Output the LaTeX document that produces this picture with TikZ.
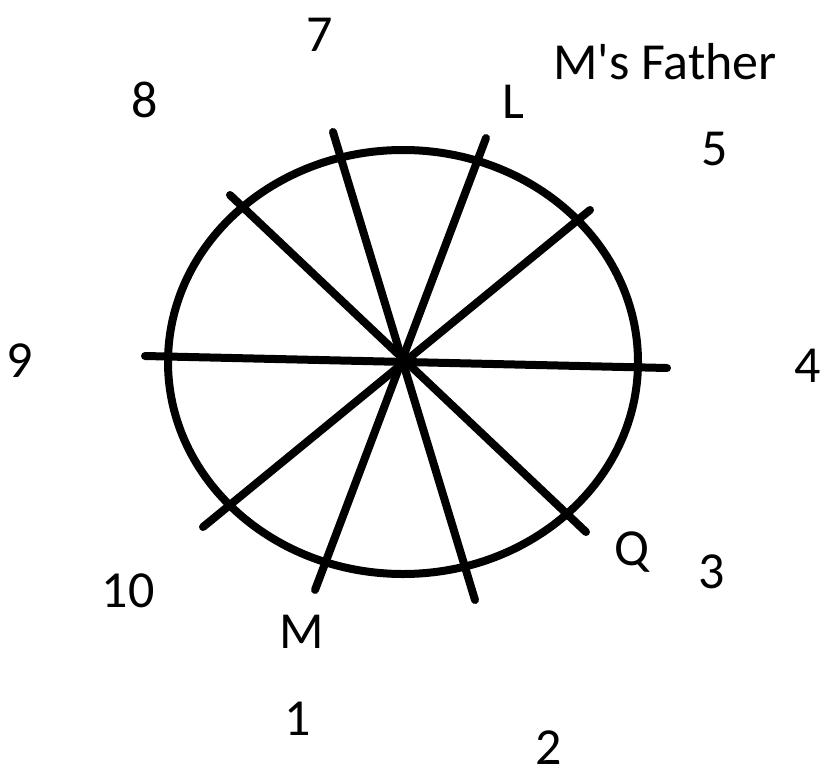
\documentclass[tikz,border=0pt]{standalone}
\usepackage{fontspec}
\setmainfont{Carlito}

\begin{document}
\begin{tikzpicture}[
  x=1pt, y=-1pt,
  spoke/.style={line width=8pt, line cap=round},
  lbl/.style={anchor=base, inner sep=0pt, font=\fontsize{52}{62}\selectfont},
]
\useasboundingbox (0,0) rectangle (824,776);
% ring
\coordinate (c) at (403,362);
\draw[line width=8pt] (c) ellipse [x radius=235pt, y radius=212pt];
% spoke ends
\coordinate (w9)  at (145,356); \coordinate (e4)  at (667,368);
\coordinate (n7)  at (333,132); \coordinate (s2)  at (475,600);
\coordinate (nL)  at (486,138); \coordinate (sM)  at (315,590);
\coordinate (ne5) at (590,210); \coordinate (sw10) at (203,527);
\coordinate (nw8) at (230,195); \coordinate (seQ) at (586,532);
\draw[spoke] (w9) -- (e4);
\draw[spoke] (n7) -- (s2);
\draw[spoke] (nL) -- (sM);
\draw[spoke] (ne5) -- (sw10);
\draw[spoke] (nw8) -- (seQ);
% seat numbers
\node[lbl] (s1)  at (298,735) {1};
\node[lbl] (s2l) at (549,764) {2};
\node[lbl] (s3)  at (712,588) {3};
\node[lbl] (s4)  at (808,382) {4};
\node[lbl] (s5)  at (715,165) {5};
\node[lbl] (s7)  at (320,52)  {7};
\node[lbl] (s8)  at (145,117) {8};
\node[lbl] (s9)  at (20,377)  {9};
\node[lbl] (s10) at (128,607) {10};
% people
\node[lbl] (pL)  at (513,118) {L};
\node[lbl] (pF)  at (665,79)  {M\textquotesingle s Father};
\node[lbl] (pQ)  at (632,565) {Q};
\node[lbl] (pM)  at (302,648) {M};
\end{tikzpicture}
\end{document}
